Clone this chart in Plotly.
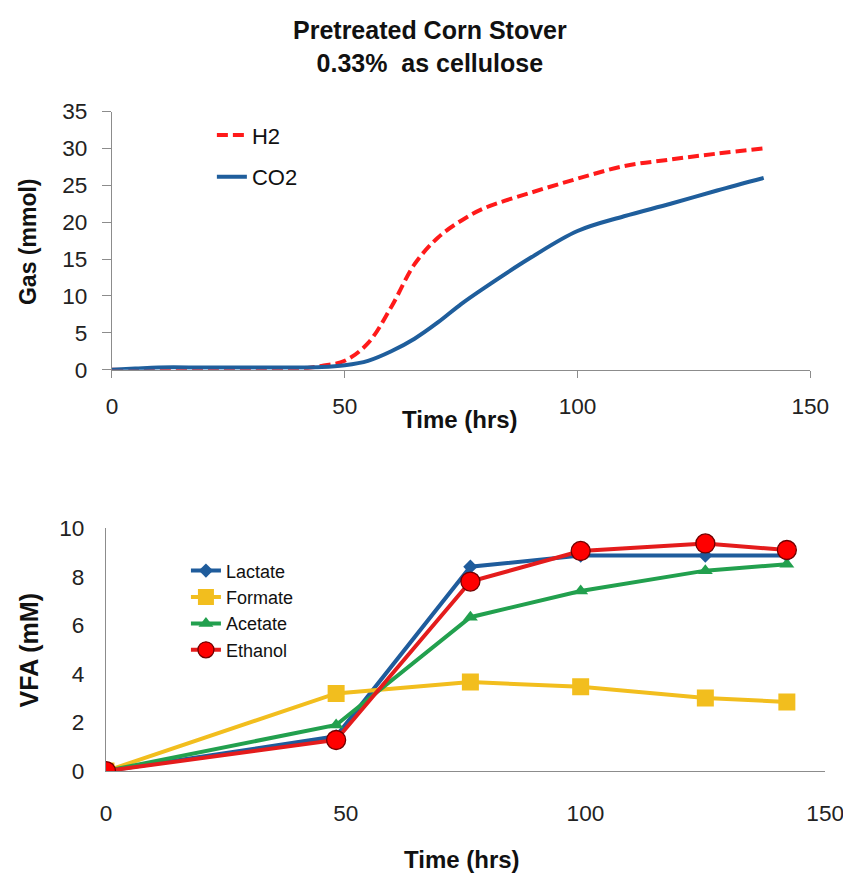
import plotly.graph_objects as go

# ---- Data ----
gas_time = [0, 5, 10, 20, 30, 40, 45, 50, 55, 60, 65, 70, 75, 80, 90, 100, 110, 120, 130, 140]
h2 = [0, -0.1, -0.1, -0.1, -0.1, 0.1, 0.5, 1.2, 3.6, 8.5, 14.3, 17.9, 20.2, 21.9, 24.0, 25.9, 27.6, 28.5, 29.3, 30.0]
co2 = [0, 0.15, 0.3, 0.3, 0.3, 0.3, 0.35, 0.6, 1.2, 2.5, 4.2, 6.4, 8.9, 11.1, 15.2, 18.8, 20.8, 22.5, 24.3, 26.0]

vfa_time = [0, 48, 76, 99, 125, 142]
lactate = [0, 1.43, 8.42, 8.88, 8.88, 8.88]
formate = [0, 3.20, 3.67, 3.47, 3.01, 2.85]
acetate = [0, 1.90, 6.34, 7.42, 8.26, 8.52]
ethanol = [0, 1.28, 7.81, 9.07, 9.38, 9.11]

gas_ticks = [0, 5, 10, 15, 20, 25, 30, 35]
vfa_ticks = [0, 2, 4, 6, 8, 10]
time_ticks = [0, 50, 100, 150]

FONT = "Liberation Sans, Arial, sans-serif"
W, H = 851, 877
S = 0.973            # measured screenshot scale
BX, BY = 12.8, 19.8  # measured screenshot offset


def dx(r):
    return (r - BX) / S


def dy(r):
    return (r - BY) / S


def px(r):
    return dx(r) / W


def py(r):
    return 1 - dy(r) / H


def fs(size):
    return size / S


fig = go.Figure()

fig.add_trace(go.Scatter(x=gas_time, y=h2, name="H2", mode="lines",
                         line=dict(color="#FF1A1A", width=4, dash="11px,5px", shape="spline", smoothing=1),
                         xaxis="x", yaxis="y", legend="legend", legendgroup="a"))
fig.add_trace(go.Scatter(x=gas_time, y=co2, name="CO2", mode="lines",
                         line=dict(color="#1F5E9C", width=4, shape="spline", smoothing=1),
                         xaxis="x", yaxis="y", legend="legend", legendgroup="b"))

fig.add_trace(go.Scatter(x=vfa_time, y=lactate, name="Lactate", mode="lines+markers",
                         line=dict(color="#1F5C9C", width=4),
                         marker=dict(symbol="diamond", size=11, color="#1F5C9C"),
                         xaxis="x2", yaxis="y2", legend="legend2"))
fig.add_trace(go.Scatter(x=vfa_time, y=formate, name="Formate", mode="lines+markers",
                         line=dict(color="#F2BE1E", width=4),
                         marker=dict(symbol="square", size=17, color="#F2BE1E"),
                         xaxis="x2", yaxis="y2", legend="legend2"))
fig.add_trace(go.Scatter(x=vfa_time, y=acetate, name="Acetate", mode="lines+markers",
                         line=dict(color="#22A04E", width=4),
                         marker=dict(symbol="triangle-up", size=13, color="#22A04E"),
                         xaxis="x2", yaxis="y2", legend="legend2"))
fig.add_trace(go.Scatter(x=vfa_time, y=ethanol, name="Ethanol", mode="lines+markers",
                         line=dict(color="#E41C1C", width=4),
                         marker=dict(symbol="circle", size=19, color="#FF0000",
                                     line=dict(color="#700000", width=1.3)),
                         xaxis="x2", yaxis="y2", legend="legend2"))

axis_common = dict(showgrid=False, zeroline=False, showline=True, linecolor="#8C8C8C", linewidth=1.3,
                   tickfont=dict(family=FONT, size=fs(22), color="#222"))

fig.update_layout(
    width=W, height=H,
    margin=dict(l=0, r=0, t=0, b=0),
    paper_bgcolor="white", plot_bgcolor="white",
    font=dict(family=FONT, color="#111"),
    xaxis=dict(domain=[px(111), px(811)], range=[0, 150], tickvals=time_ticks,
               ticks="outside", ticklen=7, tickcolor="#8C8C8C", ticklabelstandoff=9,
               anchor="y", **axis_common),
    yaxis=dict(domain=[py(370), py(111.5)], range=[0, 35], tickvals=gas_ticks,
               ticks="outside", ticklen=9, tickcolor="#8C8C8C", ticklabelstandoff=10,
               anchor="x", **axis_common),
    xaxis2=dict(domain=[px(105), px(826)], range=[0, 150], tickvals=time_ticks,
                ticks="", ticklabelstandoff=22, anchor="y2", **axis_common),
    yaxis2=dict(domain=[py(772), py(529)], range=[0, 10], tickvals=vfa_ticks,
                ticks="", ticklabelstandoff=16, anchor="x2", **axis_common),
    legend=dict(x=(dx(253) - 43) / W, y=1 - 97 / H, xanchor="left", yanchor="top",
                font=dict(family=FONT, size=22, color="#111"), tracegroupgap=10,
                bgcolor="rgba(0,0,0,0)"),
    legend2=dict(x=(dx(227) - 43) / W, y=1 - 548 / H, xanchor="left", yanchor="top",
                 font=dict(family=FONT, size=18, color="#111"), tracegroupgap=0,
                 bgcolor="rgba(0,0,0,0)"),
    showlegend=True,
)

annots = [
    dict(text="<b>Pretreated Corn Stover</b><br><b>0.33%  as cellulose</b>", x=dx(430) / W,
         y=1 - 27 / H, font=dict(size=25, family=FONT, color="#111")),
    dict(text="<b>Time (hrs)</b>", x=px(459.5), y=py(420), font=dict(size=24, family=FONT, color="#111")),
    dict(text="<b>Gas (mmol)</b>", x=px(27), y=py(242), textangle=-90,
         font=dict(size=23, family=FONT, color="#111")),
    dict(text="<b>Time (hrs)</b>", x=px(462), y=1 - 864 / H, font=dict(size=24, family=FONT, color="#111")),
    dict(text="<b>VFA (mM)</b>", x=px(28), y=py(651), textangle=-90,
         font=dict(size=25, family=FONT, color="#111")),
]
for a in annots:
    fig.add_annotation(xref="paper", yref="paper", showarrow=False, xanchor="center", yanchor="middle", **a)

fig.write_html("out.html")
